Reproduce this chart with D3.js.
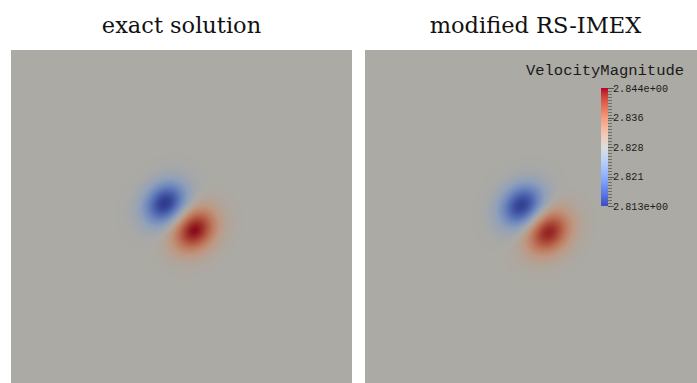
<!DOCTYPE html>
<html>
<head>
<meta charset="utf-8">
<script src="https://cdn.jsdelivr.net/npm/d3@7"></script>
<style>
  html, body { margin: 0; padding: 0; background: #fff; }
  svg { display: block; }
</style>
</head>
<body>
<script>
// Panel titles
const panelTitles = ["exact solution", "modified RS-IMEX"];

// Velocity-magnitude field: uniform background with a low and a high lobe
const baseValue    = [2.8285, 2.8285];
const lowPeak      = [2.8128, 2.8132];
const highPeak     = [2.8442, 2.8432];
const lowCentreX   = [4.52, 4.60];
const lowCentreY   = [4.50, 4.57];
const highCentreX  = [5.38, 5.37];
const highCentreY  = [5.28, 5.34];
const spreadAlong  = [0.39, 0.40];
const spreadAcross = [0.48, 0.49];

// Colour bar
const barTitle      = "VelocityMagnitude";
const barRange      = [2.8129, 2.8441];
const barTickValues = [2.8441, 2.8363, 2.8285, 2.8207, 2.8129];
const barTickLabels = ["2.844e+00", "2.836", "2.828", "2.821", "2.813e+00"];

// Cool-to-warm diverging map
const coolWarmStops   = [0, 0.125, 0.25, 0.375, 0.5, 0.625, 0.75, 0.875, 1];
const coolWarmColours = ["rgb(59,76,192)", "rgb(98,130,234)", "rgb(141,176,254)",
                         "rgb(184,208,249)", "rgb(221,221,221)", "rgb(245,196,172)",
                         "rgb(244,154,123)", "rgb(222,96,77)", "rgb(180,4,38)"];

const W = 697, H = 383;
const panelLeft = [11, 365];
const panelTop = 50;
const panelSize = 341;

const svg = d3.select("body").append("svg")
  .attr("width", W).attr("height", H)
  .style("background", "#fff");

// value -> colour (unlit, used in the colour bar)
const tScale = d3.scaleLinear().domain(barRange).range([0, 1]).clamp(true);
const mapColour = d3.scaleLinear()
  .domain(coolWarmStops)
  .range(coolWarmColours)
  .interpolate(d3.interpolateLab)
  .clamp(true);

// the rendered surface is lit, so it appears darker than the bar
const shade = [0.775, 0.768, 0.742];
function surfaceColour(v) {
  const c = d3.rgb(mapColour(tScale(v)));
  return [c.r * shade[0], c.g * shade[1], c.b * shade[2]];
}

const x = d3.scaleLinear().domain([0, 10]).range([0, panelSize]);
const y = d3.scaleLinear().domain([0, 10]).range([0, panelSize]);

function fieldValue(i, px, py) {
  const ax = Math.SQRT1_2, ay = Math.SQRT1_2;
  function lobe(cx, cy) {
    const dx = px - cx, dy = py - cy;
    const u = dx * ax + dy * ay;
    const w = -dx * ay + dy * ax;
    return Math.exp(-(u * u) / (2 * spreadAlong[i] ** 2) - (w * w) / (2 * spreadAcross[i] ** 2));
  }
  return baseValue[i]
    + (lowPeak[i] - baseValue[i]) * lobe(lowCentreX[i], lowCentreY[i])
    + (highPeak[i] - baseValue[i]) * lobe(highCentreX[i], highCentreY[i]);
}

panelTitles.forEach((title, i) => {
  const left = panelLeft[i];
  const visW = Math.min(panelSize, W - left);
  const visH = H - panelTop;

  const canvas = document.createElement("canvas");
  canvas.width = visW; canvas.height = visH;
  const ctx = canvas.getContext("2d");
  const img = ctx.createImageData(visW, visH);
  for (let r = 0; r < visH; r++) {
    const py = y.invert(r + 0.5);
    for (let c = 0; c < visW; c++) {
      const px = x.invert(c + 0.5);
      const col = surfaceColour(fieldValue(i, px, py));
      const k = (r * visW + c) * 4;
      img.data[k] = col[0]; img.data[k + 1] = col[1]; img.data[k + 2] = col[2]; img.data[k + 3] = 255;
    }
  }
  ctx.putImageData(img, 0, 0);

  svg.append("image")
    .attr("x", left).attr("y", panelTop)
    .attr("width", visW).attr("height", visH)
    .attr("href", canvas.toDataURL());

  svg.append("text")
    .attr("x", left + panelSize / 2).attr("y", 33)
    .attr("text-anchor", "middle")
    .attr("font-family", "DejaVu Serif, serif")
    .attr("font-size", 22.5)
    .attr("fill", "#111")
    .text(title);
});

// Colour bar in the second panel
const barX = 601, barW = 7, barTop = 88, barBottom = 206;
const barY = d3.scaleLinear().domain(barRange).range([barBottom, barTop]);

const grad = svg.append("defs").append("linearGradient")
  .attr("id", "barGrad").attr("x1", 0).attr("y1", 1).attr("x2", 0).attr("y2", 0);
d3.range(0, 1.0001, 0.05).forEach(t => {
  grad.append("stop").attr("offset", t).attr("stop-color", mapColour(t));
});

svg.append("rect")
  .attr("x", barX).attr("y", barTop)
  .attr("width", barW).attr("height", barBottom - barTop)
  .attr("fill", "url(#barGrad)");

// minor ticks
const minorVals = d3.range(41).map(k => barRange[0] + k * (barRange[1] - barRange[0]) / 40);
svg.append("g").selectAll("line").data(minorVals).join("line")
  .attr("x1", barX + barW).attr("x2", barX + barW + 4)
  .attr("y1", d => Math.round(barY(d)) + 0.5).attr("y2", d => Math.round(barY(d)) + 0.5)
  .attr("stroke", "#6e6d68").attr("stroke-width", 1);

// major ticks and labels
svg.append("g").selectAll("line").data(barTickValues).join("line")
  .attr("x1", barX + barW).attr("x2", barX + barW + 6)
  .attr("y1", d => Math.round(barY(d)) + 0.5).attr("y2", d => Math.round(barY(d)) + 0.5)
  .attr("stroke", "#55544f").attr("stroke-width", 1);

svg.append("g").selectAll("text").data(barTickValues).join("text")
  .attr("x", barX + barW + 5)
  .attr("y", d => barY(d))
  .attr("dy", "0.35em")
  .attr("font-family", "Liberation Mono, monospace")
  .attr("font-size", 10.2)
  .attr("fill", "#1a1a1a")
  .text((d, k) => barTickLabels[k]);

svg.append("text")
  .attr("x", 605).attr("y", 75)
  .attr("text-anchor", "middle")
  .attr("font-family", "Liberation Mono, monospace")
  .attr("font-size", 15.5)
  .attr("fill", "#1a1a1a")
  .text(barTitle);
</script>
</body>
</html>
